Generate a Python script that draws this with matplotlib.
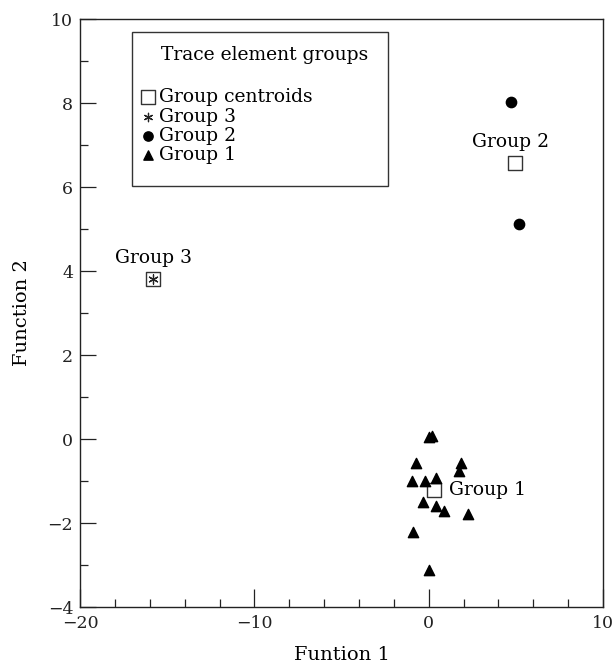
import matplotlib
matplotlib.use("Agg")
import matplotlib.pyplot as plt
from matplotlib.patches import Rectangle

plt.rcParams['font.family'] = ['DejaVu Serif']
plt.rcParams['mathtext.fontset'] = 'dejavuserif'

# Data
g1_x = [0.0, 0.2, -0.75, 1.85, 1.75, -0.95, -0.2, 0.4, -0.35, 0.4, 0.9, 2.25, -0.9, 0.02]
g1_y = [0.05, 0.07, -0.58, -0.56, -0.75, -1.0, -0.99, -0.94, -1.49, -1.6, -1.71, -1.79, -2.22, -3.12]
g2_x = [4.7, 5.15]
g2_y = [8.02, 5.12]
g3_x = [-15.8]
g3_y = [3.8]
cent_x = [0.3, 4.97, -15.8]
cent_y = [-1.22, 6.57, 3.8]
cent_labels = ["Group 1", "Group 2", "Group 3"]
legend_title = "Trace element groups"
legend_labels = ['Group centroids', 'Group 3', 'Group 2', 'Group 1']

fig = plt.figure(figsize=(6.16, 6.65), dpi=100)
ax = fig.add_axes([0.13, 0.0872, 0.849, 0.8842])

h_cent = ax.scatter(cent_x, cent_y, marker='s', s=110, facecolor='white',
                    edgecolor='#333333', linewidths=1.0, zorder=3)
h3 = ax.scatter(g3_x, g3_y, marker=(6, 2, 0), s=45, color='#222222',
                linewidths=0.9, zorder=4)
h2 = ax.scatter(g2_x, g2_y, marker='o', s=55, color='black', zorder=4)
h1 = ax.scatter(g1_x, g1_y, marker='^', s=55, color='black', zorder=4)

fs = 13.5
# centroid labels
ax.text(cent_x[0] + 0.85, cent_y[0], cent_labels[0], fontsize=fs, ha='left', va='center')
ax.text(cent_x[1] - 0.25, cent_y[1] + 0.5, cent_labels[1], fontsize=fs, ha='center', va='center')
ax.text(cent_x[2], cent_y[2] + 0.5, cent_labels[2], fontsize=fs, ha='center', va='center')

ax.set_xlim(-20, 10)
ax.set_ylim(-4, 10)
ax.set_xticks([-20, -10, 0, 10])
ax.set_xticks([-18, -16, -14, -12, -8, -6, -4, -2, 2, 4, 6, 8], minor=True)
ax.set_yticks([-4, -2, 0, 2, 4, 6, 8, 10])
ax.set_yticks([-3, -1, 1, 3, 5, 7, 9], minor=True)
ax.set_xticklabels(['\u221220', '\u221210', '0', '10'])
ax.set_yticklabels(['\u22124', '\u22122', '0', '2', '4', '6', '8', '10'])
ax.tick_params(which='both', direction='in', top=False, right=False, labelsize=12.5,
               width=0.9, colors='#222222')
ax.tick_params(axis='x', which='major', length=13, pad=6)
ax.tick_params(axis='x', which='minor', length=6)
ax.tick_params(axis='y', which='major', length=11.5, pad=5)
ax.tick_params(axis='y', which='minor', length=6)
for s in ax.spines.values():
    s.set_linewidth(1.0)
    s.set_color('#222222')

ax.set_xlabel('Funtion 1', fontsize=14, labelpad=10)
ax.set_ylabel('Function 2', fontsize=14, labelpad=12)

# legend frame
ax.add_patch(Rectangle((0.0994, 0.716), 0.4896, 0.262, transform=ax.transAxes,
                       facecolor='white', edgecolor='#333333', linewidth=1.0, zorder=5))
ax.text(0.155, 0.939, legend_title, transform=ax.transAxes, fontsize=fs,
        ha='left', va='center', zorder=6)
leg = ax.legend(handles=[h_cent, h3, h2, h1], labels=legend_labels,
                fontsize=fs, loc='upper left', bbox_to_anchor=(0.113, 0.882),
                frameon=False, handletextpad=0.15, handlelength=0.9,
                labelspacing=0.07, borderpad=0, borderaxespad=0, markerscale=0.9)
leg.set_zorder(7)

fig.savefig('out.png', dpi=100)
